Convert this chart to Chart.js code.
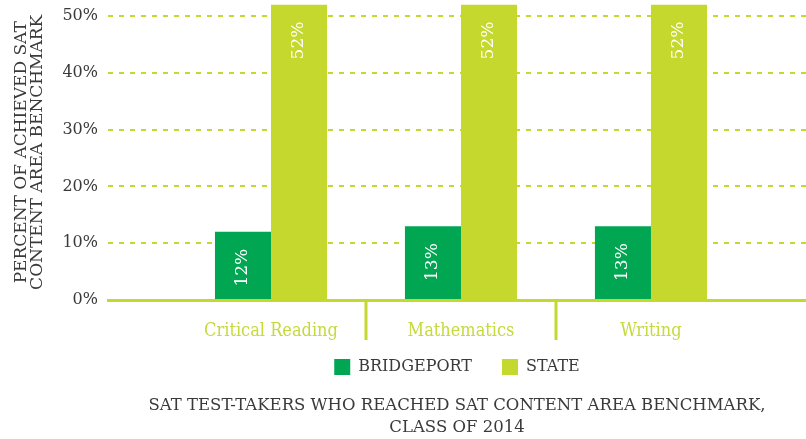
<!DOCTYPE html>
<html>
<head>
<meta charset="utf-8">
<script src="https://cdn.jsdelivr.net/npm/chart.js@4"></script>
<style>
  body { margin: 0; background: #fff; }
  #wrap { width: 806px; height: 439px; }
</style>
</head>
<body>
<div id="wrap"><canvas id="myChart"></canvas></div>
<script>
const categories = ['Critical Reading', 'Mathematics', 'Writing']
const bridgeport = [12, 13, 13]
const state = [52, 52, 52]
const yTicks = [0, 10, 20, 30, 40, 50]

const green = '#00a651'
const lime = '#c4d82e'
const grey = '#3a3a3a'
const serif = '"DejaVu Serif", serif'
const serifNarrow = '"DejaVu Serif Condensed", "DejaVu Serif", serif'

const toPoints = arr => arr.map((v, i) => ({ x: i, y: v }))

// category labels, dividers between categories, labels inside bars
const extras = {
    id: 'extras',
    afterDraw(chart) {
        const c = chart.ctx
        const xs = chart.scales.x
        const area = chart.chartArea
        c.save()
        c.strokeStyle = lime
        c.lineWidth = 3
        for (let i = 0; i < categories.length - 1; i++) {
            const px = Math.round(xs.getPixelForValue(i + 0.5))
            c.beginPath()
            c.moveTo(px, area.bottom)
            c.lineTo(px, area.bottom + 40)
            c.stroke()
        }
        c.fillStyle = '#c6da3c'
        c.font = '18px ' + serifNarrow
        c.textAlign = 'center'
        c.textBaseline = 'middle'
        categories.forEach((name, i) => {
            c.fillText(name, xs.getPixelForValue(i), area.bottom + 31)
        })
        c.fillStyle = '#fff'
        c.font = '17px ' + serif
        c.textAlign = 'right'
        chart.data.datasets.forEach((ds, di) => {
            chart.getDatasetMeta(di).data.forEach((bar, i) => {
                c.save()
                c.translate(bar.x, bar.y + 17)
                c.rotate(-Math.PI / 2)
                c.fillText(ds.data[i].y + '%', 0, 0)
                c.restore()
            })
        })
        c.restore()
    }
}

const ctx = document.getElementById('myChart').getContext('2d')
const myChart = new Chart(ctx, {
    type: 'bar',
    data: {
        datasets: [{
            label: 'BRIDGEPORT',
            data: toPoints(bridgeport),
            backgroundColor: green
        }, {
            label: 'STATE',
            data: toPoints(state),
            backgroundColor: lime
        }]
    },
    options: {
        responsive: true,
        maintainAspectRatio: false,
        animation: false,
        categoryPercentage: 0.59,
        barPercentage: 1,
        layout: { padding: { top: 4.6, right: 0, left: 0, bottom: 0 } },
        scales: {
            x: {
                type: 'linear',
                offset: false,
                min: -0.858,
                max: 2.816,
                afterBuildTicks: s => { s.ticks = categories.map((c, i) => ({ value: i })) },
                afterFit: s => { s.height = 29; s.paddingLeft = 0; s.paddingRight = 0 },
                ticks: { display: false },
                grid: { display: false, drawTicks: false },
                border: { display: true, color: lime, width: 3 }
            },
            y: {
                min: 0,
                max: 52,
                afterBuildTicks: s => { s.ticks = yTicks.map(v => ({ value: v })) },
                afterFit: s => { s.width = 108; s.paddingTop = 0; s.paddingBottom = 0 },
                ticks: {
                    callback: v => v + '%',
                    color: grey,
                    font: { family: serif, size: 16 },
                    padding: 10
                },
                grid: {
                    color: c => c.tick && c.tick.value === 0 ? 'rgba(0,0,0,0)' : lime,
                    lineWidth: 2,
                    drawTicks: false
                },
                border: { display: false, dash: [5, 6] },
                title: {
                    display: true,
                    text: ['PERCENT OF ACHIEVED SAT', 'CONTENT AREA BENCHMARK'],
                    color: grey,
                    font: { family: serif, size: 17, lineHeight: 0.97 },
                    padding: { top: 13, bottom: 0 }
                }
            }
        },
        plugins: {
            legend: {
                position: 'bottom',
                fullSize: false,
                labels: {
                    boxWidth: 16,
                    boxHeight: 16,
                    padding: 30,
                    color: grey,
                    font: { family: serif, size: 16 }
                }
            },
            title: {
                display: true,
                position: 'bottom',
                fullSize: false,
                text: ['SAT TEST-TAKERS WHO REACHED SAT CONTENT AREA BENCHMARK,', 'CLASS OF 2014'],
                color: grey,
                font: { family: serif, size: 16.5, weight: 'normal', lineHeight: 1.333 },
                padding: { top: 10, bottom: 0 }
            },
            tooltip: { enabled: false }
        }
    },
    plugins: [extras]
})
</script>
</body>
</html>
